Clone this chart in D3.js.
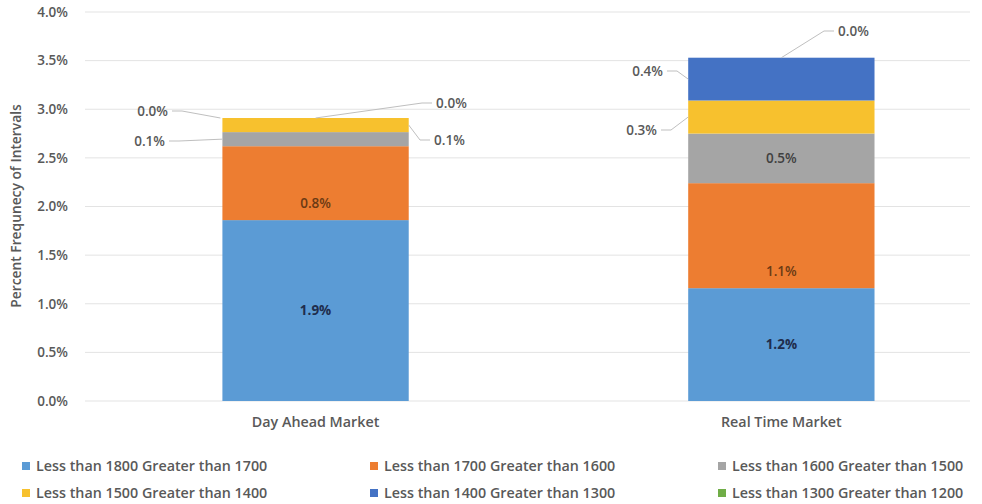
<!DOCTYPE html>
<html><head><meta charset="utf-8">
<script src="https://cdn.jsdelivr.net/npm/d3@7"></script>
<style>
body{margin:0;background:#fff;}
text{font-family:"Open Sans",Lato,sans-serif;font-weight:600;}
</style></head>
<body><svg id="chart" width="982" height="504"></svg>
<script>
const categories = ["Day Ahead Market", "Real Time Market"];
const seriesNames = [
  "Less than 1800 Greater than 1700",
  "Less than 1700 Greater than 1600",
  "Less than 1600 Greater than 1500",
  "Less than 1500 Greater than 1400",
  "Less than 1400 Greater than 1300",
  "Less than 1300 Greater than 1200"
];
// values in percent, [Day Ahead, Real Time]
const s1800 = [1.86, 1.16];
const s1700 = [0.76, 1.08];
const s1600 = [0.145, 0.51];
const s1500 = [0.145, 0.34];
const s1400 = [0.0, 0.44];
const s1300 = [0.0, 0.0];
const yTicks = [0, 0.5, 1.0, 1.5, 2.0, 2.5, 3.0, 3.5, 4.0];

const colors = ["#5B9BD5", "#ED7D31", "#A5A5A5", "#F7C12E", "#4472C4", "#70AD47"];
const allSeries = [s1800, s1700, s1600, s1500, s1400, s1300];
const FONT = '"Open Sans", Lato, sans-serif';
const FS = "14.3px";

const svg = d3.select("#chart");
const x = d3.scaleBand().domain(categories).range([85, 970])
  .paddingInner(0.6).paddingOuter(0.25).align(0.59);
const y = d3.scaleLinear().domain([0, 4]).range([401, 12]);

// gridlines
svg.append("g").selectAll("line").data(yTicks).join("line")
  .attr("x1", 85).attr("x2", 970)
  .attr("y1", d => y(d)).attr("y2", d => y(d))
  .attr("stroke", "#e3e3e3").attr("stroke-width", 1);

// y axis labels
const yAxis = d3.axisLeft(y).tickValues(yTicks).tickFormat(d => d.toFixed(1) + "%").tickSize(0).tickPadding(0);
const ya = svg.append("g").attr("transform", "translate(68,0)").call(yAxis);
ya.select(".domain").remove();
ya.selectAll("text").attr("fill", "#595959").style("font-size", "13.5px").style("font-family", FONT).style("font-weight", 600);

// y title
svg.append("text").attr("transform", "translate(21,206) rotate(-90)")
  .attr("text-anchor", "middle").attr("fill", "#595959").style("font-size", "13.8px")
  .text("Percent Frequnecy of Intervals");

// stacked data
const table = categories.map((c, i) => {
  const o = {cat: c};
  seriesNames.forEach((s, j) => o[s] = allSeries[j][i]);
  return o;
});
const stack = d3.stack().keys(seriesNames)(table);

svg.append("g").selectAll("g").data(stack).join("g")
  .attr("fill", (d, i) => colors[i])
  .selectAll("rect").data(d => d).join("rect")
  .attr("x", d => x(d.data.cat)).attr("width", x.bandwidth())
  .attr("y", d => y(d[1])).attr("height", d => y(d[0]) - y(d[1]));

// x axis labels
const xa = svg.append("g").attr("transform", "translate(0,401)").call(d3.axisBottom(x).tickSize(0).tickPadding(16));
xa.select(".domain").remove();
xa.selectAll("text").attr("fill", "#595959").style("font-size", FS).style("font-family", FONT).style("font-weight", 600);

const fmt = v => v.toFixed(1) + "%";

// inside labels
const inside = [
  [0, 0, 0, "#1F2D4D"], [0, 1, 0, "#1F2D4D"],
  [1, 0, "bottom", "#6B3A14"], [1, 1, "bottom", "#6B3A14"],
  [2, 1, 0, "#404040"]
];
inside.forEach(([si, ci, off, col]) => {
  const seg = stack[si][ci];
  const cx = x(categories[ci]) + x.bandwidth() / 2;
  const cy = off === "bottom" ? y(seg[0]) - 17 : (y(seg[0]) + y(seg[1])) / 2;
  svg.append("text").attr("x", cx).attr("y", cy).attr("dy", "0.35em")
    .attr("text-anchor", "middle").attr("fill", col)
    .style("font-size", "13.5px").style("font-weight", si === 0 ? "700" : "600")
    .text(fmt(allSeries[si][ci]));
});

// callout labels
const callouts = [
  {s: 4, c: 0, ax: "left", lx: 168, ly: 111, anchor: "end"},
  {s: 2, c: 0, ax: "left", lx: 165, ly: 141, anchor: "end"},
  {s: 5, c: 0, ax: "center", lx: 436, ly: 103, anchor: "start"},
  {s: 3, c: 0, ax: "right", lx: 434, ly: 140, anchor: "start"},
  {s: 5, c: 1, ax: "center", lx: 838, ly: 31, anchor: "start"},
  {s: 4, c: 1, ax: "left", lx: 663, ly: 71, anchor: "end"},
  {s: 3, c: 1, ax: "left", lx: 657, ly: 130, anchor: "end"}
];
callouts.forEach(o => {
  const seg = stack[o.s][o.c];
  const x0 = x(categories[o.c]);
  let px, py;
  if (o.ax === "left") { px = x0; py = (y(seg[0]) + y(seg[1])) / 2; }
  else if (o.ax === "right") { px = x0 + x.bandwidth(); py = (y(seg[0]) + y(seg[1])) / 2; }
  else { px = x0 + x.bandwidth() / 2; py = y(seg[1]); }
  if (o.s === 4 && o.c === 0) { px = x0 - 2; py = y(seg[1]); }
  const tx = o.anchor === "end" ? o.lx + 4 : o.lx - 4;
  const elbowX = o.anchor === "end" ? tx + 10 : tx - 10;
  svg.append("path")
    .attr("d", `M${tx},${o.ly} L${elbowX},${o.ly} L${px},${py}`)
    .attr("fill", "none").attr("stroke", "#bfbfbf").attr("stroke-width", 1);
  svg.append("text").attr("x", o.lx).attr("y", o.ly).attr("dy", "0.35em")
    .attr("text-anchor", o.anchor).attr("fill", "#595959").style("font-size", "13.5px")
    .text(fmt(allSeries[o.s][o.c]));
});

// legend
const legendPos = [[22, 466], [370, 466], [718, 466], [22, 493], [370, 493], [718, 493]];
const lg = svg.append("g");
seriesNames.forEach((n, i) => {
  const [lx, ly] = legendPos[i];
  lg.append("rect").attr("x", lx).attr("y", ly - 4).attr("width", 8).attr("height", 8).attr("fill", colors[i]);
  lg.append("text").attr("x", lx + 14).attr("y", ly).attr("dy", "0.35em")
    .attr("fill", "#595959").style("font-size", FS).text(n);
});
</script></body></html>
